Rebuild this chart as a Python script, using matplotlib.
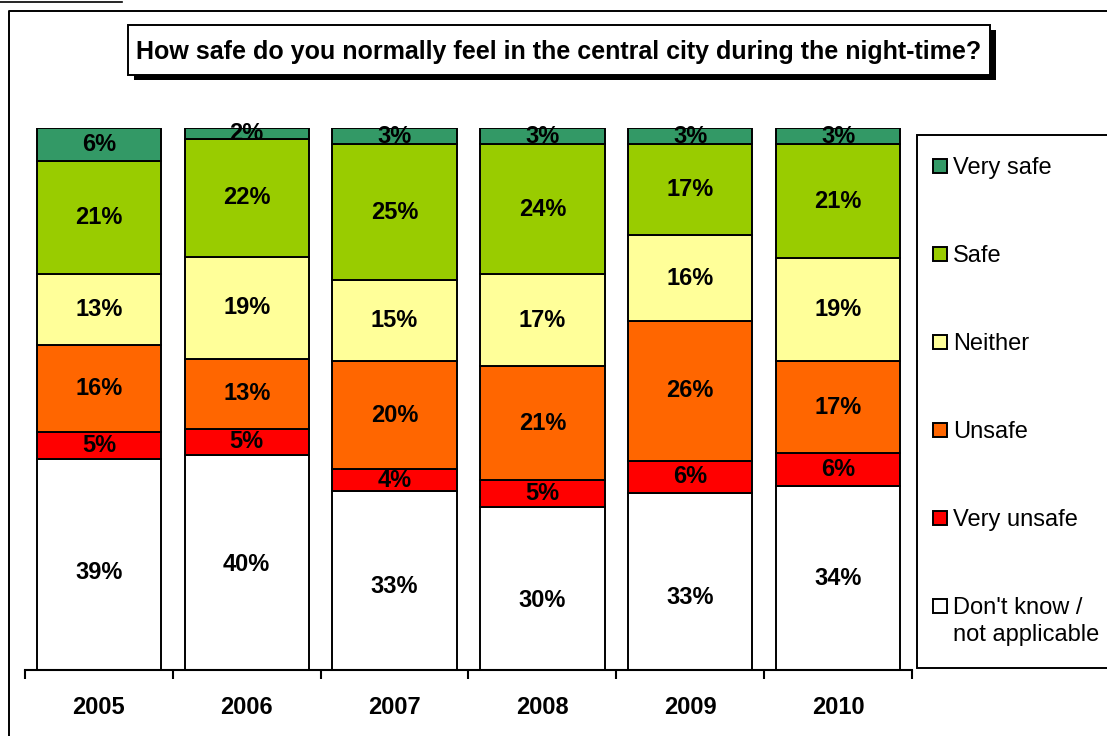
import numpy as np
import matplotlib
matplotlib.use('Agg')
from matplotlib import pyplot as plt
from matplotlib.patches import Rectangle
from matplotlib.lines import Line2D

plt.rcParams['font.family'] = ['Liberation Sans', 'DejaVu Sans']

years = ['2005', '2006', '2007', '2008', '2009', '2010']
categories = ["Don't know /\nnot applicable", 'Very unsafe', 'Unsafe',
              'Neither', 'Safe', 'Very safe']
colors = ['#FFFFFF', '#FF0000', '#FF6600', '#FFFF99', '#99CC00', '#339966']

dont_know = [39, 40, 33, 30, 33, 34]
very_unsafe = [5, 5, 4, 5, 6, 6]
unsafe = [16, 13, 20, 21, 26, 17]
neither = [13, 19, 15, 17, 16, 19]
safe = [21, 22, 25, 24, 17, 21]
very_safe = [6, 2, 3, 3, 3, 3]

title = 'How safe do you normally feel in the central city during the night-time?'

# the "don't know" labels were nudged down by hand in the original (pixels)
dk_nudge = [8, 2, 6, 12, 16, 1]

W, H = 1107, 736


def px(x, y):
    """Pixel position (from top-left) to figure fraction."""
    return x / W, 1 - y / H


fig = plt.figure(figsize=(W / 100, H / 100), dpi=100)

# outer frame and stray line at the top
fig.add_artist(Line2D([9 / W, 9 / W, 1.0], [0.0, 1 - 11 / H, 1 - 11 / H],
                      transform=fig.transFigure, color='black', lw=1.4))
fig.add_artist(Line2D([0.0, 122 / W], [1 - 1.5 / H, 1 - 1.5 / H],
                      transform=fig.transFigure, color='black', lw=1.2))

ax = fig.add_axes([25 / W, 66 / H, (912 - 25) / W, (670 - 128) / H])

series = np.array([dont_know, very_unsafe, unsafe, neither, safe, very_safe],
                  dtype=float)
shares = series / series.sum(axis=0) * 100
x = np.arange(len(years))
bottom = np.zeros(len(years))
for k, (vals, shown, color) in enumerate(zip(shares, series, colors)):
    ax.bar(x, vals, bottom=bottom, width=0.84, color=color,
           edgecolor='black', linewidth=1.4)
    for i, (xi, b, v, s) in enumerate(zip(x, bottom, vals, shown)):
        nudge = dk_nudge[i] / (670 - 128) * 100 if k == 0 else 0
        ax.text(xi, b + v / 2 - nudge, '%d%%' % s, ha='center', va='center',
                fontsize=17, fontweight='bold')
    bottom += vals

ax.set_xlim(-0.5, len(years) - 0.5)
ax.set_ylim(0, 100)
for side in ['left', 'right', 'top']:
    ax.spines[side].set_visible(False)
ax.spines['bottom'].set_linewidth(1.5)
ax.set_yticks([])
ax.set_xticks(x)
ax.set_xticklabels(years, fontsize=17, fontweight='bold')
ax.tick_params(axis='x', which='major', length=0, pad=19)
ax.set_xticks(np.arange(-0.5, len(years)), minor=True)
ax.tick_params(axis='x', which='minor', length=6.5, width=1.5, direction='out')

# title box with drop shadow
x0, y0 = px(128, 75)
x1, y1 = px(990, 25)
sx, sy = 6 / W, 5 / H
fig.add_artist(Rectangle((x0 + sx, y0 - sy), x1 - x0, y1 - y0,
                         transform=fig.transFigure, facecolor='black',
                         edgecolor='black', lw=0))
fig.add_artist(Rectangle((x0, y0), x1 - x0, y1 - y0,
                         transform=fig.transFigure, facecolor='white',
                         edgecolor='black', lw=1.4))
fig.text((x0 + x1) / 2, (y0 + y1) / 2 - 2 / H, title, ha='center',
         va='center', fontsize=18, fontweight='bold')

# legend box
lx0, ly0 = px(917, 668)
lx1, ly1 = px(1115, 135)
fig.add_artist(Rectangle((lx0, ly0), lx1 - lx0, ly1 - ly0,
                         transform=fig.transFigure, facecolor='white',
                         edgecolor='black', lw=1.4))
for i, (name, color) in enumerate(zip(categories[::-1], colors[::-1])):
    yc = 166 + 88 * i
    mx, my = px(933, yc + 7)
    fig.add_artist(Rectangle((mx, my), 14 / W, 14 / H,
                             transform=fig.transFigure, facecolor=color,
                             edgecolor='black', lw=1.4))
    tx, ty = px(953, yc - 9)
    fig.text(tx, ty, name, ha='left', va='top', fontsize=17,
             linespacing=1.28)

fig.savefig('out.png', dpi=100)
